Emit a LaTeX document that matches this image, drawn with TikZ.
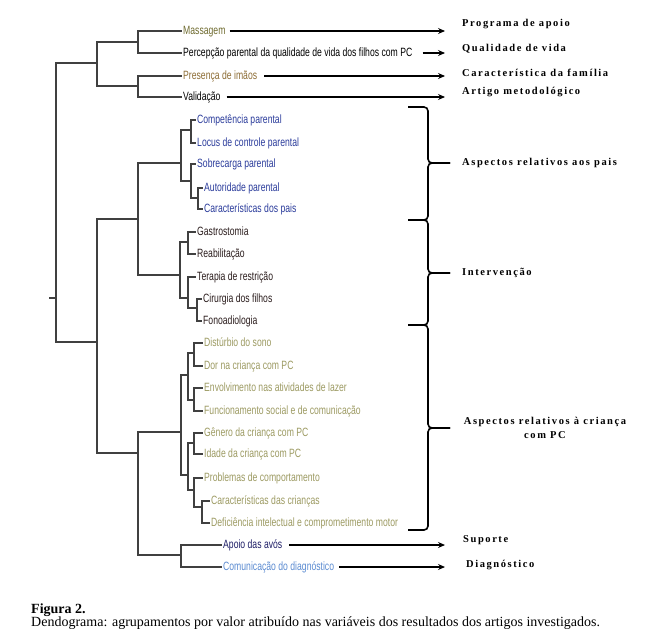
\documentclass[tikz,border=0pt]{standalone}
\usepackage{fontspec}
\setmainfont{Liberation Serif}
\newfontfamily\leaffont[FakeStretch=0.72]{Liberation Sans}
\newfontfamily\groupfont[LetterSpace=15]{Liberation Serif}
\usetikzlibrary{arrows.meta}

\definecolor{massagemcol}{HTML}{6E6A2E}
\definecolor{irmaocol}{HTML}{8C6C34}
\definecolor{paiscol}{HTML}{2B3C9B}
\definecolor{intercol}{HTML}{2A1C1C}
\definecolor{criancacol}{HTML}{9C9A62}
\definecolor{avoscol}{HTML}{1E1E66}
\definecolor{diagcol}{HTML}{5B8BD1}

\begin{document}
\begin{tikzpicture}[x=1pt,y=-1pt,
    leaf/.style={anchor=west,inner sep=1pt,font=\leaffont\fontsize{12}{13}\selectfont,text height=8pt,text depth=2pt},
    group/.style={anchor=west,inner sep=0pt,font=\groupfont\bfseries\fontsize{10.5}{14}\selectfont},
    link/.style={line width=1.1pt,draw=black!75},
    bracket/.style={line width=1.6pt,rounded corners=4pt},
    >={Stealth[length=7pt,width=6pt,inset=2.5pt]}]
\useasboundingbox (0,0) rectangle (672,640);

% folhas
\node[leaf,text=massagemcol] at (182,31) (mas) {Massagem};
\node[leaf] at (182,53) (per) {Percepção parental da qualidade de vida dos filhos com PC};
\node[leaf,text=irmaocol] at (182,76) (pre) {Presença de imãos};
\node[leaf] at (182,97) (val) {Validação};
\node[leaf,text=paiscol] at (196,120) (comp) {Competência parental};
\node[leaf,text=paiscol] at (196,143) (locus) {Locus de controle parental};
\node[leaf,text=paiscol] at (196,164) (sobr) {Sobrecarga parental};
\node[leaf,text=paiscol] at (203,188) (auto) {Autoridade parental};
\node[leaf,text=paiscol] at (203,209) (carpais) {Características dos pais};
\node[leaf,text=intercol] at (196,232) (gast) {Gastrostomia};
\node[leaf,text=intercol] at (196,254) (reab) {Reabilitação};
\node[leaf,text=intercol] at (196,277) (ter) {Terapia de restrição};
\node[leaf,text=intercol] at (202,299) (cir) {Cirurgia dos filhos};
\node[leaf,text=intercol] at (202,321) (fono) {Fonoadiologia};
\node[leaf,text=criancacol] at (203,343) (sono) {Distúrbio do sono};
\node[leaf,text=criancacol] at (203,366) (dor) {Dor na criança com PC};
\node[leaf,text=criancacol] at (203,388) (lazer) {Envolvimento nas atividades de lazer};
\node[leaf,text=criancacol] at (203,411) (func) {Funcionamento social e de comunicação};
\node[leaf,text=criancacol] at (203,433) (gen) {Gênero da criança com PC};
\node[leaf,text=criancacol] at (203,454) (idade) {Idade da criança com PC};
\node[leaf,text=criancacol] at (203,478) (prob) {Problemas de comportamento};
\node[leaf,text=criancacol] at (210,501) (carcri) {Características das crianças};
\node[leaf,text=criancacol] at (210,523) (def) {Deficiência intelectual e comprometimento motor};
\node[leaf,text=avoscol] at (222,545) (avos) {Apoio das avós};
\node[leaf,text=diagcol] at (222,567) (comu) {Comunicação do diagnóstico};

% grupos
\node[group] at (462,24) (prog) {Programa de apoio};
\node[group] at (462,49) (qual) {Qualidade de vida};
\node[group] at (462,73) (carac) {Característica da família};
\node[group] at (462,92) (art) {Artigo metodológico};
\node[group] at (462,163) (pais) {Aspectos relativos aos pais};
\node[group] at (462,273) (inter) {Intervenção};
\node[group,anchor=center,align=center] at (545,428) (crianca) {Aspectos relativos à criança\\com PC};
\node[group] at (463,540) (sup) {Suporte};
\node[group] at (466,565) (diag) {Diagnóstico};

% juncoes
\coordinate (root) at (49,298);
\coordinate (jR) at (56,298);
\coordinate (jAB) at (97,63);
\coordinate (jA) at (138,42);
\coordinate (jB) at (138,86);
\coordinate (jCD) at (97,342);
\coordinate (jC) at (138,219);
\coordinate (jD) at (138,453);
\coordinate (jP) at (181,163);
\coordinate (jP1) at (191,130);
\coordinate (jP2) at (191,181);
\coordinate (jP3) at (198,198);
\coordinate (jI) at (180,275);
\coordinate (jI1) at (188,242);
\coordinate (jI2) at (188,298);
\coordinate (jI3) at (197,308);
\coordinate (jK) at (181,432);
\coordinate (jK1) at (188,375);
\coordinate (jK11) at (194,353);
\coordinate (jK12) at (194,400);
\coordinate (jK2) at (188,475);
\coordinate (jK21) at (194,443);
\coordinate (jK22) at (194,490);
\coordinate (jK3) at (202,507);
\coordinate (jS) at (181,555);

\draw[link] (root) -- (jR);
\draw[link] (jR) |- (jAB);
\draw[link] (jR) |- (jCD);
\draw[link] (jAB) |- (jA);
\draw[link] (jAB) |- (jB);
\draw[link] (jA) |- (mas.west);
\draw[link] (jA) |- (per.west);
\draw[link] (jB) |- (pre.west);
\draw[link] (jB) |- (val.west);
\draw[link] (jCD) |- (jC);
\draw[link] (jCD) |- (jD);
\draw[link] (jC) |- (jP);
\draw[link] (jC) |- (jI);
\draw[link] (jP) |- (jP1);
\draw[link] (jP) |- (jP2);
\draw[link] (jP1) |- (comp.west);
\draw[link] (jP1) |- (locus.west);
\draw[link] (jP2) |- (sobr.west);
\draw[link] (jP2) |- (jP3);
\draw[link] (jP3) |- (auto.west);
\draw[link] (jP3) |- (carpais.west);
\draw[link] (jI) |- (jI1);
\draw[link] (jI) |- (jI2);
\draw[link] (jI1) |- (gast.west);
\draw[link] (jI1) |- (reab.west);
\draw[link] (jI2) |- (ter.west);
\draw[link] (jI2) |- (jI3);
\draw[link] (jI3) |- (cir.west);
\draw[link] (jI3) |- (fono.west);
\draw[link] (jD) |- (jK);
\draw[link] (jD) |- (jS);
\draw[link] (jK) |- (jK1);
\draw[link] (jK) |- (jK2);
\draw[link] (jK1) |- (jK11);
\draw[link] (jK1) |- (jK12);
\draw[link] (jK11) |- (sono.west);
\draw[link] (jK11) |- (dor.west);
\draw[link] (jK12) |- (lazer.west);
\draw[link] (jK12) |- (func.west);
\draw[link] (jK2) |- (jK21);
\draw[link] (jK2) |- (jK22);
\draw[link] (jK21) |- (gen.west);
\draw[link] (jK21) |- (idade.west);
\draw[link] (jK22) |- (prob.west);
\draw[link] (jK22) |- (jK3);
\draw[link] (jK3) |- (carcri.west);
\draw[link] (jK3) |- (def.west);
\draw[link] (jS) |- (avos.west);
\draw[link] (jS) |- (comu.west);

% setas
\coordinate (tip) at (445,0);
\draw[->,line width=1.2pt] ([xshift=3pt]mas.east) -- (mas.east -| tip);
\draw[->,line width=1.2pt] ([xshift=9pt]per.east) -- (per.east -| tip);
\draw[->,line width=1.2pt] ([xshift=6pt]pre.east) -- (pre.east -| tip);
\draw[->,line width=1.2pt] ([xshift=5pt]val.east) -- (val.east -| tip);
\draw[->,line width=1.2pt] ([xshift=6pt]avos.east) -- (avos.east -| tip);
\draw[->,line width=1.2pt] ([xshift=4pt]comu.east) -- (comu.east -| tip);

% chaves
\draw[bracket] (408,107) -| (428,163) -- (450,163);
\draw[bracket] (450,163) -| (428,220) -- (408,220);
\draw[bracket] (408,220) -| (428,273) -- (450,273);
\draw[bracket] (450,273) -| (428,325) -- (408,325);
\draw[bracket] (408,325) -| (428,428) -- (450,428);
\draw[bracket] (450,428) -| (428,530) -- (408,530);

% legenda
\node[anchor=base west,inner sep=0pt,font=\bfseries\fontsize{14}{14}\selectfont] at (31,613) (fig) {Figura 2.};
\node[anchor=base west,inner sep=0pt,font=\fontsize{14}{14}\selectfont] at (31,626) (leg) {Dendograma: agrupamentos por valor atribuído nas variáveis dos resultados dos artigos investigados.};
\end{tikzpicture}
\end{document}
